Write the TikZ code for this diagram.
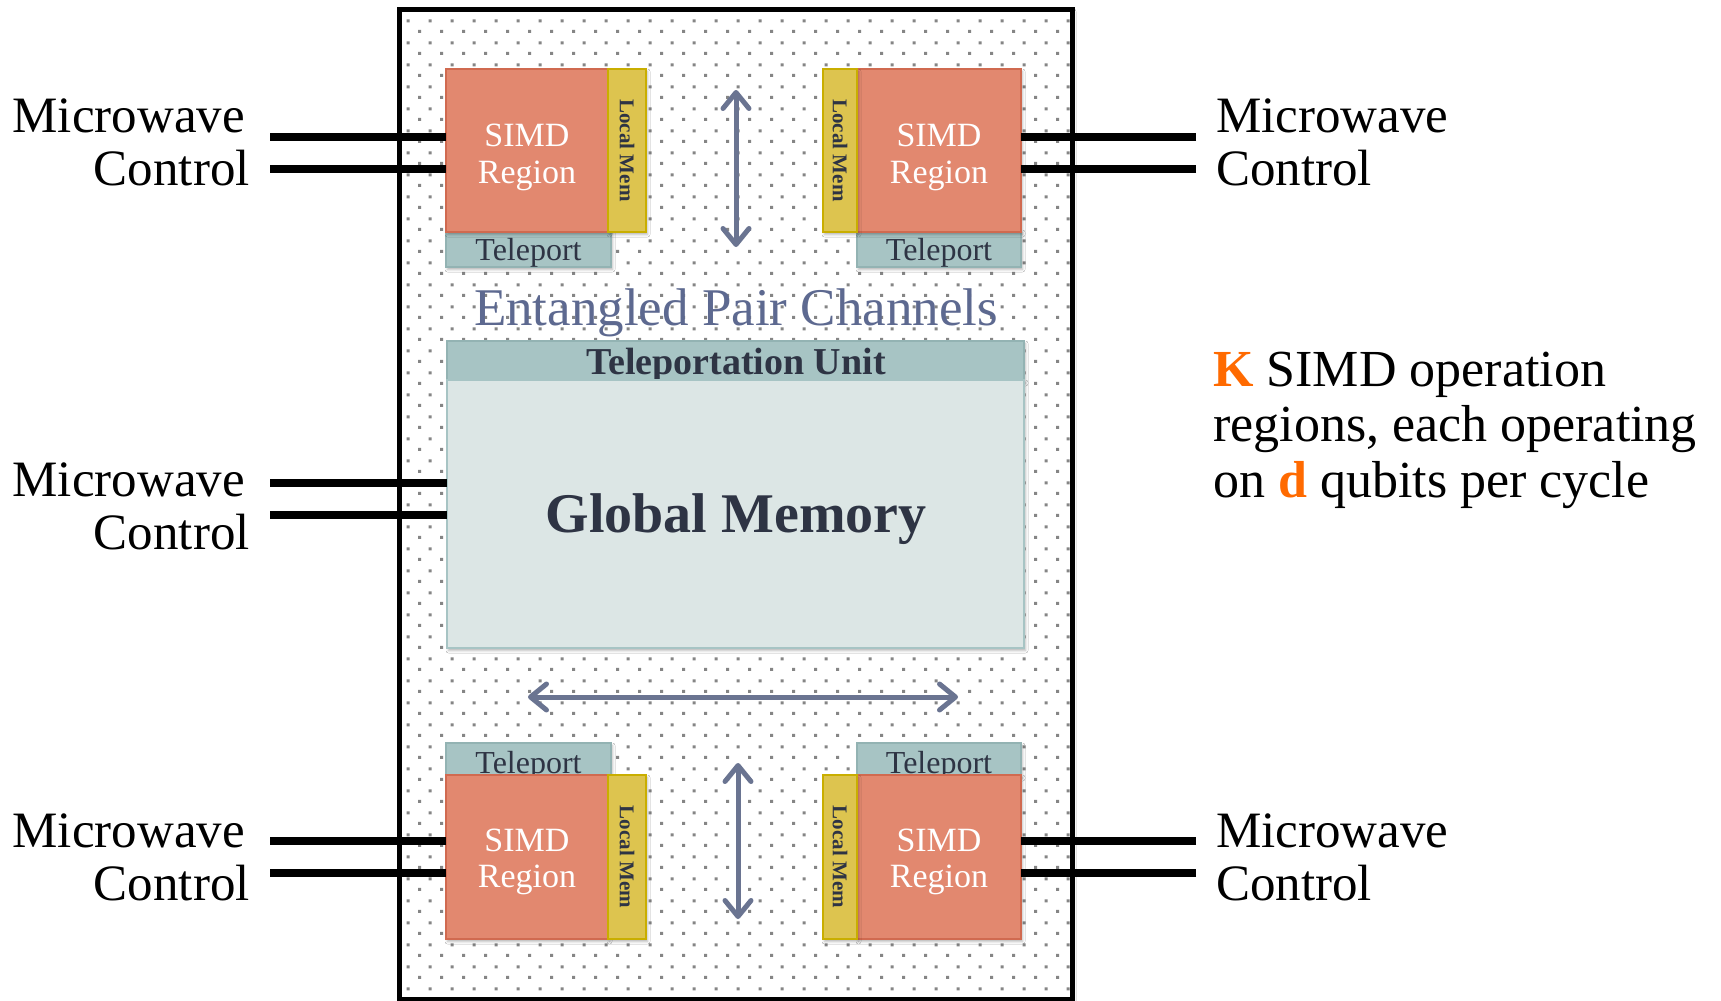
\documentclass[tikz,border=0pt]{standalone}
\usepackage{fontspec}
\setmainfont{Liberation Serif}
\usetikzlibrary{arrows.meta,patterns,shadows.blur}

% stippled background of the chip: staggered grey dots
\pgfdeclarepatternformonly{chipdots}{\pgfqpoint{0pt}{0pt}}{\pgfqpoint{22pt}{22pt}}{\pgfqpoint{22pt}{22pt}}{%
  \pgfpathrectangle{\pgfqpoint{0pt}{0pt}}{\pgfqpoint{3.2pt}{3.2pt}}%
  \pgfpathrectangle{\pgfqpoint{11pt}{11pt}}{\pgfqpoint{3.2pt}{3.2pt}}%
  \pgfusepath{fill}}

\definecolor{simdfill}{HTML}{E2886F}
\definecolor{simdline}{HTML}{D06A50}
\definecolor{memfill}{HTML}{DDC44F}
\definecolor{memline}{HTML}{C9AE00}
\definecolor{tpfill}{HTML}{A7C4C4}
\definecolor{tpline}{HTML}{93B3B3}
\definecolor{gmfill}{HTML}{DCE6E5}
\definecolor{inktext}{HTML}{2E3444}
\definecolor{chan}{HTML}{6A7491}
\definecolor{chantext}{HTML}{5D6990}
\definecolor{hilite}{HTML}{FF6A00}
\definecolor{dotgray}{HTML}{858585}

\begin{document}
\begin{tikzpicture}[x=1pt,y=-1pt,
  box/.style={rectangle, inner sep=0pt, outer sep=0pt, anchor=north west, line width=1.5pt},
  softshadow/.style={blur shadow={shadow xshift=1.5pt, shadow yshift=-2.5pt, shadow blur radius=2.5pt, shadow opacity=30}},
  simdbox/.style={box, softshadow, fill=simdfill, draw=simdline, minimum height=163pt},
  membox/.style={box, softshadow, fill=memfill, draw=memline, line width=2pt, minimum height=163pt},
  tpbox/.style={box, softshadow, fill=tpfill, draw=tpline},
  simdtext/.style={text=white, font=\fontsize{34}{36}\selectfont, anchor=base, inner sep=0pt},
  tptext/.style={text=inktext, font=\fontsize{32}{34}\selectfont, anchor=base, inner sep=0pt},
  memtext/.style={text=inktext, font=\bfseries\fontsize{21}{22}\selectfont, rotate=-90, inner sep=0pt},
  ctrltext/.style={font=\fontsize{51}{53}\selectfont, inner sep=0pt},
  notetext/.style={font=\fontsize{52}{55}\selectfont, inner sep=0pt, anchor=base west},
  ctrlwire/.style={line width=8pt, draw=black},
  channel/.style={draw=chan, line width=5pt, >={Straight Barb[length=16pt,width=26pt,round]}, <->},
]
\path[use as bounding box, fill=white] (0,0) rectangle (1721,1001);

% chip outline with dotted fill
\node[box, fill=white, softshadow, minimum width=673pt, minimum height=990pt] (chip) at (399,9) {};
\fill[pattern=chipdots, pattern color=dotgray] (chip.north west) rectangle (chip.south east);
\draw[line width=5pt] (chip.north west) rectangle (chip.south east);

% ---- top-left region
\node[tpbox, minimum width=165pt, minimum height=37pt] (tpTL) at (446,230) {};
\node[tptext] at (528.5,260) {Teleport};
\node[simdbox, minimum width=162pt] (simdTL) at (446,69) {};
\node[membox, minimum width=38pt] (memTL) at (608,69) {};
\node[simdtext] at (527,146) {SIMD};
\node[simdtext] at (527,183) {Region};
\node[memtext] at (memTL.center) {Local Mem};

% ---- top-right region
\node[tpbox, minimum width=164pt, minimum height=37pt] (tpTR) at (857,230) {};
\node[tptext] at (939,260) {Teleport};
\node[simdbox, minimum width=164pt] (simdTR) at (857,69) {};
\node[membox, minimum width=34pt] (memTR) at (823,69) {};
\node[simdtext] at (939,146) {SIMD};
\node[simdtext] at (939,183) {Region};
\node[memtext] at (memTR.center) {Local Mem};

% ---- bottom-left region
\node[tpbox, minimum width=165pt, minimum height=33pt] (tpBL) at (446,743) {};
\node[tptext] at (528.5,773) {Teleport};
\node[simdbox, minimum width=162pt, minimum height=164pt] (simdBL) at (446,775) {};
\node[membox, minimum width=38pt, minimum height=164pt] (memBL) at (608,775) {};
\node[simdtext] at (527,851) {SIMD};
\node[simdtext] at (527,887) {Region};
\node[memtext] at (memBL.center) {Local Mem};

% ---- bottom-right region
\node[tpbox, minimum width=164pt, minimum height=33pt] (tpBR) at (857,743) {};
\node[tptext] at (939,773) {Teleport};
\node[simdbox, minimum width=164pt, minimum height=164pt] (simdBR) at (857,775) {};
\node[membox, minimum width=34pt, minimum height=164pt] (memBR) at (823,775) {};
\node[simdtext] at (939,851) {SIMD};
\node[simdtext] at (939,887) {Region};
\node[memtext] at (memBR.center) {Local Mem};

% ---- global memory with its teleportation unit
\node[tpbox, minimum width=577pt, minimum height=40pt] (tpunit) at (447,341) {};
\node[font=\bfseries\fontsize{38}{40}\selectfont, text=inktext, anchor=base, inner sep=0pt] at (736,374) {Teleportation Unit};
\node[box, softshadow, fill=gmfill, draw=tpfill, line width=2pt, minimum width=577pt, minimum height=268pt] (gmem) at (447,380) {};
\node[font=\bfseries\fontsize{56}{58}\selectfont, text=inktext, anchor=base, inner sep=0pt] at (736,532) {Global Memory};

% ---- entangled pair channels
\node[font=\fontsize{53}{55}\selectfont, text=chantext, anchor=base, inner sep=0pt] (chanlabel) at (736,325) {Entangled Pair Channels};
\coordinate (chUa) at (736,90);  \coordinate (chUb) at (736,247);
\coordinate (chDa) at (738,763); \coordinate (chDb) at (738,919);
\coordinate (chHa) at (528,697); \coordinate (chHb) at (958,697);
\draw[channel] (chUa) -- (chUb);
\draw[channel] (chDa) -- (chDb);
\draw[channel] (chHa) -- (chHb);

% ---- microwave control wires
\coordinate (wTLa) at (270,137); \coordinate (wTLb) at (270,169);
\coordinate (wMLa) at (270,483); \coordinate (wMLb) at (270,515);
\coordinate (wBLa) at (270,841); \coordinate (wBLb) at (270,873);
\coordinate (wTRa) at (1196,137); \coordinate (wTRb) at (1196,169);
\coordinate (wBRa) at (1196,841); \coordinate (wBRb) at (1196,873);
\draw[ctrlwire] (wTLa) -- (wTLa -| simdTL.west);
\draw[ctrlwire] (wTLb) -- (wTLb -| simdTL.west);
\draw[ctrlwire] (wMLa) -- (wMLa -| gmem.west);
\draw[ctrlwire] (wMLb) -- (wMLb -| gmem.west);
\draw[ctrlwire] (wBLa) -- (wBLa -| simdBL.west);
\draw[ctrlwire] (wBLb) -- (wBLb -| simdBL.west);
\draw[ctrlwire] (wTRa) -- (wTRa -| simdTR.east);
\draw[ctrlwire] (wTRb) -- (wTRb -| simdTR.east);
\draw[ctrlwire] (wBRa) -- (wBRa -| simdBR.east);
\draw[ctrlwire] (wBRb) -- (wBRb -| simdBR.east);

% ---- wire labels
\node[ctrltext, anchor=base east] (mwTL) at (245,132) {Microwave};
\node[ctrltext, anchor=base east] (ctTL) at (250,185) {Control};
\node[ctrltext, anchor=base east] (mwML) at (245,496) {Microwave};
\node[ctrltext, anchor=base east] (ctML) at (250,549) {Control};
\node[ctrltext, anchor=base east] (mwBL) at (245,847) {Microwave};
\node[ctrltext, anchor=base east] (ctBL) at (250,900) {Control};
\node[ctrltext, anchor=base west] (mwTR) at (1216,132) {Microwave};
\node[ctrltext, anchor=base west] (ctTR) at (1216,185) {Control};
\node[ctrltext, anchor=base west] (mwBR) at (1216,847) {Microwave};
\node[ctrltext, anchor=base west] (ctBR) at (1216,900) {Control};

% ---- note
\node[notetext] (noteA) at (1213,386) {\textcolor{hilite}{\bfseries K} SIMD operation};
\node[notetext] (noteB) at (1213,441) {regions, each operating};
\node[notetext] (noteC) at (1213,497) {on \textcolor{hilite}{\bfseries d} qubits per cycle};
\end{tikzpicture}
\end{document}
